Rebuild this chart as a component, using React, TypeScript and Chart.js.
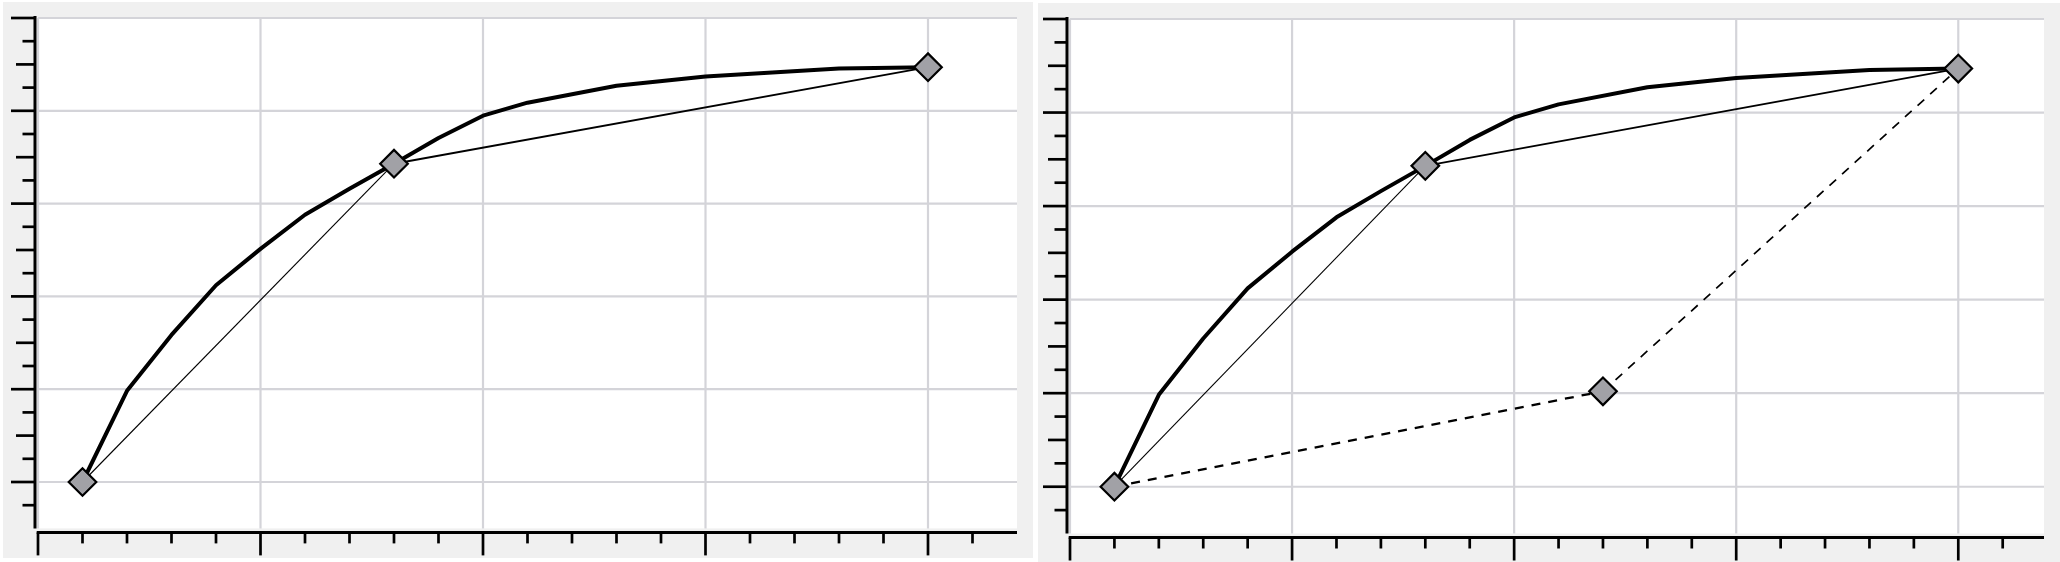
import React, { useEffect, useRef } from 'react';
import { Chart, registerables } from 'chart.js';

Chart.register(...registerables);

// ---------- data ----------
const X_MIN = 0;
const X_MAX_LEFT = 22;
const X_MAX_RIGHT = 21.93;
const Y_MIN = 0;
const Y_MAX = 22;

const CURVE_X = [1, 2, 3, 4, 5, 6, 7, 8, 9, 10, 11, 13, 15, 18, 20];
const CURVE_Y = [2.0, 5.93, 8.34, 10.48, 12.05, 13.52, 14.64, 15.72, 16.83, 17.79, 18.35, 19.08, 19.48, 19.82, 19.88];

const MARKER_X = [1, 8, 20];
const MARKER_Y = [2.0, 15.72, 19.88];

const EXTRA_X = [12];
const EXTRA_Y = [6.08];

const X_TICKS = [0, 1, 2, 3, 4, 5, 6, 7, 8, 9, 10, 11, 12, 13, 14, 15, 16, 17, 18, 19, 20, 21];
const X_MAJOR = [0, 5, 10, 15, 20];
const Y_TICKS = [1, 2, 3, 4, 5, 6, 7, 8, 9, 10, 11, 12, 13, 14, 15, 16, 17, 18, 19, 20, 21, 22];
const Y_MAJOR = [2, 6, 10, 14, 18, 22];
const Y_MEDIUM = [4, 8, 12, 16, 20];

// ---------- styles ----------
const PANEL_BG = '#f0f0f0';
const GRID = '#d4d4d9';
const MARKER_FILL = '#a1a1a6';

const pts = (xs: number[], ys: number[]) => xs.map((x, i) => ({ x, y: ys[i] }));

const panelPlugin = {
  id: 'panelPlugin',
  beforeDraw(chart: any) {
    const { ctx, chartArea: a, width, height } = chart;
    const xs = chart.scales.x;
    const ys = chart.scales.y;
    ctx.save();
    ctx.fillStyle = PANEL_BG;
    ctx.fillRect(0, 0, width, height);
    ctx.fillStyle = '#ffffff';
    ctx.fillRect(a.left - 1.5, a.top, a.right - a.left + 1.5, a.bottom - a.top);
    ctx.strokeStyle = GRID;
    ctx.lineWidth = 2.2;
    for (const v of X_MAJOR) {
      const px = xs.getPixelForValue(v);
      ctx.beginPath();
      ctx.moveTo(px, a.top);
      ctx.lineTo(px, a.bottom);
      ctx.stroke();
    }
    for (const v of Y_MAJOR) {
      const py = ys.getPixelForValue(v);
      ctx.beginPath();
      ctx.moveTo(a.left, py);
      ctx.lineTo(a.right, py);
      ctx.stroke();
    }
    ctx.restore();
  },
  afterDraw(chart: any) {
    const { ctx, chartArea: a } = chart;
    const xs = chart.scales.x;
    const ys = chart.scales.y;
    ctx.save();
    ctx.strokeStyle = '#000000';
    // y axis
    const ax = a.left - 3;
    ctx.lineWidth = 3;
    ctx.beginPath();
    ctx.moveTo(ax, a.top - 2);
    ctx.lineTo(ax, a.bottom);
    ctx.stroke();
    ctx.lineWidth = 2.7;
    for (const v of Y_TICKS) {
      const py = ys.getPixelForValue(v);
      const len = Y_MAJOR.includes(v) ? 24 : Y_MEDIUM.includes(v) ? 19 : 12.5;
      ctx.beginPath();
      ctx.moveTo(ax, py);
      ctx.lineTo(ax - len, py);
      ctx.stroke();
    }
    // x axis
    const ay = a.bottom + 4;
    ctx.lineWidth = 3;
    ctx.beginPath();
    ctx.moveTo(a.left - 1.3, ay);
    ctx.lineTo(a.right, ay);
    ctx.stroke();
    ctx.lineWidth = 2.7;
    for (const v of X_TICKS) {
      const px = xs.getPixelForValue(v);
      const len = X_MAJOR.includes(v) ? 23 : 11;
      ctx.beginPath();
      ctx.moveTo(px, ay);
      ctx.lineTo(px, ay + len);
      ctx.stroke();
    }
    ctx.restore();
  },
};

type PanelProps = {
  left: number;
  top: number;
  width: number;
  height: number;
  padding: { left: number; right: number; top: number; bottom: number };
  xMax: number;
  withDashed: boolean;
};

function Panel({ left, top, width, height, padding, xMax, withDashed }: PanelProps) {
  const ref = useRef<HTMLCanvasElement | null>(null);

  useEffect(() => {
    if (!ref.current) return;
    const markerX = withDashed ? [...MARKER_X, ...EXTRA_X] : MARKER_X;
    const markerY = withDashed ? [...MARKER_Y, ...EXTRA_Y] : MARKER_Y;
    const datasets: any[] = [
      {
        label: 'markers',
        data: pts(markerX, markerY),
        showLine: false,
        pointStyle: 'rectRot',
        pointRadius: 13.8,
        pointBorderWidth: 2.2,
        pointBackgroundColor: MARKER_FILL,
        pointBorderColor: '#000000',
      },
      {
        label: 'curve',
        data: pts(CURVE_X, CURVE_Y),
        showLine: true,
        borderColor: '#000000',
        borderWidth: 4,
        borderJoinStyle: 'round',
        pointRadius: 0,
        tension: 0,
      },
      {
        label: 'chord1',
        data: pts([MARKER_X[0], MARKER_X[1]], [MARKER_Y[0], MARKER_Y[1]]),
        showLine: true,
        borderColor: '#000000',
        borderWidth: 1.1,
        pointRadius: 0,
      },
      {
        label: 'chord2',
        data: pts([MARKER_X[1], MARKER_X[2]], [MARKER_Y[1], MARKER_Y[2]]),
        showLine: true,
        borderColor: '#000000',
        borderWidth: 1.9,
        pointRadius: 0,
      },
    ];
    if (withDashed) {
      datasets.push(
        {
          label: 'dash1',
          data: pts([MARKER_X[0], EXTRA_X[0]], [MARKER_Y[0], EXTRA_Y[0]]),
          showLine: true,
          borderColor: '#000000',
          borderWidth: 2.3,
          borderDash: [9, 8],
          pointRadius: 0,
        },
        {
          label: 'dash2',
          data: pts([EXTRA_X[0], MARKER_X[2]], [EXTRA_Y[0], MARKER_Y[2]]),
          showLine: true,
          borderColor: '#000000',
          borderWidth: 1.7,
          borderDash: [9, 8],
          pointRadius: 0,
        }
      );
    }
    const chart = new Chart(ref.current, {
      type: 'scatter',
      data: { datasets },
      options: {
        animation: false,
        responsive: false,
        maintainAspectRatio: false,
        devicePixelRatio: 1,
        events: [],
        layout: { padding },
        plugins: { legend: { display: false }, tooltip: { enabled: false } },
        scales: {
          x: { type: 'linear', min: X_MIN, max: xMax, display: false },
          y: { type: 'linear', min: Y_MIN, max: Y_MAX, display: false },
        },
      },
      plugins: [panelPlugin],
    } as any);
    return () => chart.destroy();
  }, []);

  return (
    <canvas
      ref={ref}
      width={width}
      height={height}
      style={{ position: 'absolute', left, top, width, height, display: 'block' }}
    />
  );
}

export default function App() {
  return (
    <div
      style={{
        position: 'absolute',
        left: 0,
        top: 0,
        width: 2060,
        height: 562,
        background: '#ffffff',
        overflow: 'hidden',
      }}
    >
      <Panel
        left={3}
        top={2}
        width={1030}
        height={556}
        padding={{ left: 35, right: 12, top: 12, bottom: 29.6 }}
        xMax={X_MAX_LEFT}
        withDashed={false}
      />
      <Panel
        left={1038}
        top={3}
        width={1022}
        height={559}
        padding={{ left: 32, right: 7, top: 15.5, bottom: 28.5 }}
        xMax={X_MAX_RIGHT}
        withDashed={true}
      />
    </div>
  );
}
